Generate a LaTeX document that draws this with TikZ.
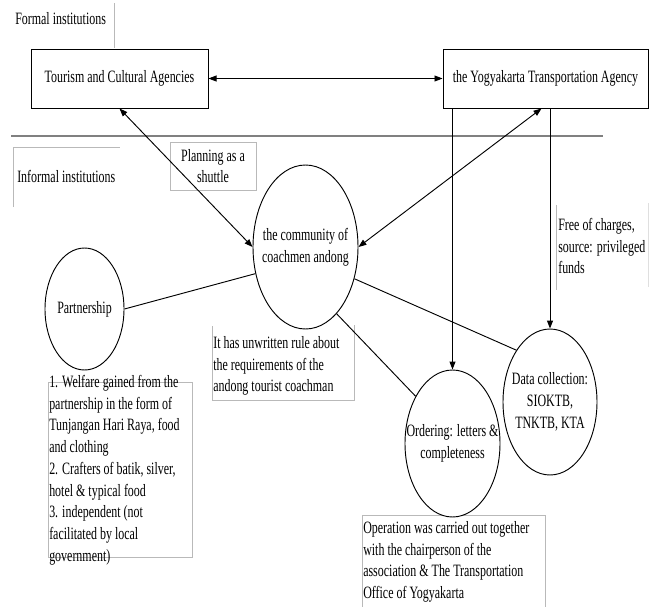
\documentclass[tikz,border=0pt]{standalone}
\usepackage{fontspec}
\setmainfont{Liberation Serif}[FakeStretch=0.69]
\usetikzlibrary{arrows.meta,shapes.geometric}

\begin{document}
\begin{tikzpicture}[x=0.75pt, y=-0.75pt,
  font=\fontsize{13}{16.3}\selectfont,
  agency/.style={draw, line width=0.75pt, rectangle, minimum width=132.75pt, minimum height=44.25pt},
  bubble/.style={draw, ellipse, line width=0.7pt, fill=white, inner sep=0pt},
  note/.style={anchor=north west, inner sep=0pt, align=left},
  frame/.style={draw=gray!55, line width=0.6pt},
  link/.style={line width=0.7pt},
  flow/.style={link, -{Triangle[length=6pt,width=4.5pt]}},
  both/.style={link, {Triangle[length=6pt,width=4.5pt]}-{Triangle[length=6pt,width=4.5pt]}}]
\useasboundingbox (0,0) rectangle (650,607);

% Formal institutions
\node[anchor=west, inner sep=0pt] (formal) at (15,19) {Formal institutions};
\draw[frame] (114,3) -- (114,48);

% Agencies
\node[agency] (tourism) at (119.5,78.5) {Tourism and Cultural Agencies};
\node[agency, minimum width=153.75pt] (transport) at (545.5,78.5) {the Yogyakarta Transportation Agency};
\draw[both] (tourism) -- (transport);

% Separator
\draw[gray, line width=1.2pt] (11,136) -- (603,136);

% Informal institutions
\draw[frame] (13,207) -- (13,147) -- (120,147);
\node[anchor=west, inner sep=0pt] (informal) at (17,176) {Informal institutions};

% Planning
\node[frame, minimum width=64.5pt, minimum height=36pt, align=center, inner sep=0pt] (planning) at (213,166) {Planning as a\\shuttle};

% Notes
\draw[frame] (48,382) rectangle (192,557);
\node[note] (partnernote) at (49,375) {1. Welfare gained from the\\partnership in the form of\\Tunjangan Hari Raya, food\\and clothing\\2. Crafters of batik, silver,\\hotel \& typical food\\3. independent (not\\facilitated by local\\government)};

\draw[frame] (212,326) -- (212,400) -- (354,400) -- (354,325);
\node[note] (rulenote) at (213,336) {It has unwritten rule about\\the requirements of the\\andong tourist coachman};

\draw[frame] (362,607) -- (362,515) -- (545,515) -- (545,607);
\node[note] (opnote) at (363,521) {Operation was carried out together\\with the chairperson of the\\association \& The Transportation\\Office of Yogyakarta};

\draw[frame] (556,205) -- (556,290);
\draw[draw=gray!25, line width=0.6pt] (648,203) -- (648,287);
\node[note] (freenote) at (558,218) {Free of charges,\\source: privileged\\funds};

% Bubbles
\node[bubble, minimum width=78.75pt, minimum height=123pt, label={[align=center]center:the community of\\coachmen andong}] (community) at (305.5,247) {};
\node[bubble, minimum width=59.25pt, minimum height=91.5pt, label={center:Partnership}] (partner) at (84.5,309) {};
\node[bubble, minimum width=71.25pt, minimum height=110.25pt, label={[align=center]center:Ordering: letters \&\\completeness}] (order) at (452.5,443.5) {};
\node[bubble, minimum width=70.5pt, minimum height=109.5pt, label={[align=center]center:Data collection:\\SIOKTB,\\TNKTB, KTA}] (data) at (550,402) {};

% Connectors
\draw[both] (tourism.south) -- (community.west);
\draw[both] ([xshift=-3pt]transport.south) -- (community.east);
\draw[flow] (order.north |- transport.south) -- (order.north);
\draw[flow] (data.north |- transport.south) -- (data.north);
\draw[link] (partner.east) -- (community.208);
\draw[link] (community.295) -- (order.128);
\draw[link] (community.327) -- (data.123);
\end{tikzpicture}
\end{document}
